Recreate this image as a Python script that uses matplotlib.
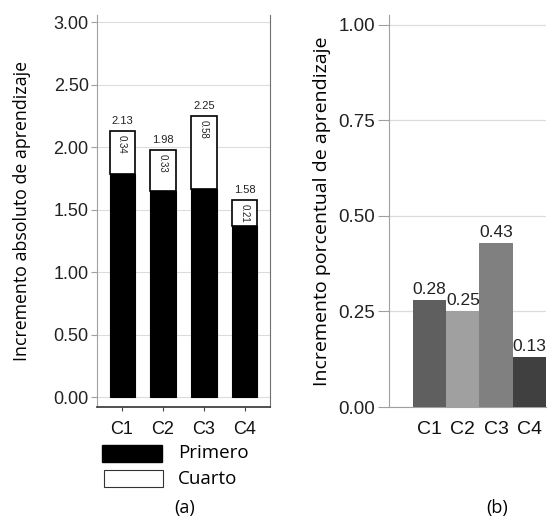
import matplotlib.pyplot as plt
from matplotlib.patches import Rectangle

# --- Data ---
grupos = ["C1", "C2", "C3", "C4"]
primero = [1.79, 1.65, 1.67, 1.37]
cuarto = [0.34, 0.33, 0.58, 0.21]
totales = [2.13, 1.98, 2.25, 1.58]
porcentual = [0.28, 0.25, 0.43, 0.13]
colores_b = ["#5f5f5f", "#a0a0a0", "#808080", "#404040"]

W, H = 548, 517
fig = plt.figure(figsize=(W / 100, H / 100), dpi=100)


def box(l, r, t, b):
    return [l / W, 1 - b / H, (r - l) / W, (b - t) / H]


tick_font = "Liberation Sans"
label_font = "Open Sans"
grid_c = "#dcdcdc"
spine_c = "#a0a0a0"

# --- Panel (a) ---
ax = fig.add_axes(box(97, 270, 15, 407))
x = list(range(len(grupos)))
ax.bar(x, primero, width=0.61, color="black", edgecolor="black", linewidth=0.8, zorder=3)
ax.bar(x, cuarto, bottom=primero, width=0.61, color="white", edgecolor="black",
       linewidth=1.2, zorder=3)
for xi, p, c, t in zip(x, primero, cuarto, totales):
    ax.text(xi, t + 0.04, f"{t:.2f}", ha="center", va="bottom", fontsize=8,
            family=tick_font, color="#222222")
    ax.text(xi, t - 0.03, f"{c:.2f}", ha="center", va="top", rotation=270,
            fontsize=7, family=tick_font, color="#222222", zorder=4)
ax.set_xlim(-0.61, 3.61)
ax.set_ylim(-0.08, 3.06)
yt = [0, 0.5, 1.0, 1.5, 2.0, 2.5, 3.0]
ax.set_yticks(yt)
ax.set_yticklabels([f"{v:.2f}" for v in yt], family=tick_font, fontsize=13, color="#222222")
ax.set_xticks(x)
ax.set_xticklabels(grupos, family=tick_font, fontsize=13, color="#111111")
ax.tick_params(axis="y", length=4, color=spine_c, pad=2)
ax.tick_params(axis="x", length=3, color="#444444", pad=7)
ax.yaxis.grid(True, color=grid_c, linewidth=0.8, zorder=0)
ax.spines["top"].set_visible(False)
ax.spines["left"].set_color(spine_c)
ax.spines["right"].set_color("#707070")
ax.spines["bottom"].set_color("#333333")
ax.spines["bottom"].set_linewidth(1.2)
ax.set_ylabel("Incremento absoluto de aprendizaje", family=label_font, fontsize=12.8,
              labelpad=16)

# legend drawn by hand under panel (a)
fig.patches.append(Rectangle((102 / W, 1 - 462 / H), 60 / W, 17 / H,
                             transform=fig.transFigure, facecolor="black",
                             edgecolor="black"))
fig.patches.append(Rectangle((104 / W, 1 - 487 / H), 59 / W, 17 / H,
                             transform=fig.transFigure, facecolor="white",
                             edgecolor="#333333", linewidth=0.8))
fig.text(178 / W, 1 - 453 / H, "Primero", family=label_font, fontsize=13.5, va="center")
fig.text(178 / W, 1 - 479 / H, "Cuarto", family=label_font, fontsize=13.5, va="center")
fig.text(185 / W, 1 - 508 / H, "(a)", family=label_font, fontsize=13, ha="center", va="center")

# --- Panel (b) ---
bx = fig.add_axes(box(389, 546, 15, 407))
bx.bar(x, porcentual, width=1.0, color=colores_b, zorder=3)
for xi, v in zip(x, porcentual):
    bx.text(xi, v + 0.008, f"{v:.2f}", ha="center", va="bottom", fontsize=12.5,
            family=tick_font, color="#222222", zorder=4)
bx.set_xlim(-1.23, 3.51)
bx.set_ylim(0, 1.026)
ytb = [0, 0.25, 0.5, 0.75, 1.0]
bx.set_yticks(ytb)
bx.set_yticklabels([f"{v:.2f}" for v in ytb], family=tick_font, fontsize=13.5, color="#222222")
bx.set_xticks(x)
bx.set_xticklabels(grupos, family=tick_font, fontsize=14, color="#111111")
bx.tick_params(axis="y", length=8, color=spine_c, pad=2)
bx.tick_params(axis="x", length=0, pad=10)
bx.yaxis.grid(True, color=grid_c, linewidth=0.9, zorder=0)
bx.spines["top"].set_visible(False)
bx.spines["right"].set_visible(False)
bx.spines["left"].set_color(spine_c)
bx.spines["bottom"].set_color(spine_c)
bx.set_ylabel("Incremento porcentual de aprendizaje", family=label_font, fontsize=14,
              labelpad=5)
fig.text(497 / W, 1 - 508 / H, "(b)", family=label_font, fontsize=13, ha="center", va="center")

fig.savefig("out.png", dpi=100)
